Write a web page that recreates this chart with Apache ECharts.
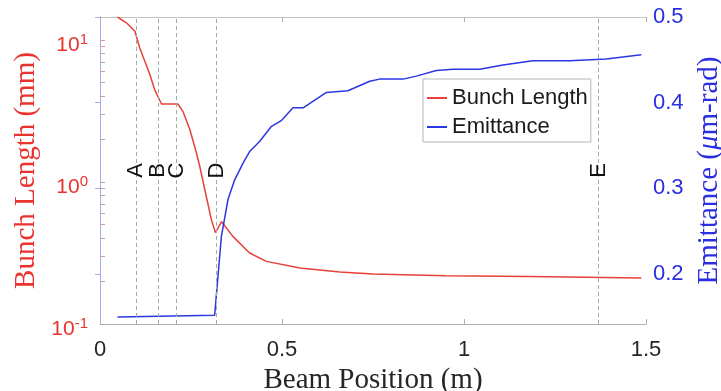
<!DOCTYPE html>
<html>
<head>
<meta charset="utf-8">
<script src="https://cdn.jsdelivr.net/npm/echarts@6/dist/echarts.min.js"></script>
<style>
html,body{margin:0;padding:0;background:#fff;}
#chart{width:721px;height:391px;}
</style>
</head>
<body>
<div id="chart"></div>
<script>
// ---- data ----
const bunchX = [0.048, 0.0725, 0.096, 0.109, 0.137, 0.150, 0.169, 0.214, 0.228, 0.247, 0.265, 0.274, 0.292, 0.306, 0.317, 0.334, 0.365, 0.411, 0.457, 0.549, 0.659, 0.75, 0.95, 1.18, 1.487];
const bunchY = [14.5, 13.2, 11.5, 8.8, 5.7, 4.47, 3.54, 3.54, 3.13, 2.33, 1.6, 1.29, 0.79, 0.543, 0.44, 0.525, 0.414, 0.316, 0.276, 0.248, 0.232, 0.225, 0.219, 0.216, 0.211];

const emitX = [0.048, 0.315, 0.3335, 0.3516, 0.370, 0.393, 0.411, 0.439, 0.47, 0.498, 0.530, 0.558, 0.622, 0.681, 0.741, 0.768, 0.833, 0.869, 0.924, 0.97, 1.043, 1.107, 1.189, 1.29, 1.391, 1.487];
const emitY = [0.150, 0.152, 0.244, 0.287, 0.310, 0.3295, 0.343, 0.355, 0.372, 0.379, 0.394, 0.394, 0.412, 0.414, 0.425, 0.4275, 0.4275, 0.431, 0.4376, 0.439, 0.439, 0.444, 0.449, 0.449, 0.451, 0.456];

const markerNames = ['A', 'B', 'C', 'D', 'E'];
const markerX = [0.1, 0.162, 0.214, 0.32, 1.368];

const xTicks = [0, 0.5, 1, 1.5];
const leftLabelTicks = [0.1, 1, 10];
const leftMinorTicks = [0.1,0.2,0.3,0.4,0.5,0.6,0.7,0.8,0.9,1,2,3,4,5,6,7,8,9,10];
const rightTicks = [0.2, 0.3, 0.4, 0.5];

const seriesNames = ['Bunch Length', 'Emittance'];

// ---- styling ----
const RED = '#e8403a';
const RED_TXT = '#e8332f';
const BLUE = '#2b36e3';
const BLUE_TXT = '#2a2ee0';
const SERIF = '"Liberation Serif", "Times New Roman", serif';
const SANS = '"Liberation Sans", Arial, Helvetica, sans-serif';

const zip = (xs, ys) => xs.map((x, i) => [x, ys[i]]);

const chart = echarts.init(document.getElementById('chart'), null, {renderer: 'canvas'});

const option = {
  animation: false,
  backgroundColor: '#fff',
  grid: {left: 100, right: 75, top: 17, bottom: 67, containLabel: false, outerBoundsMode: 'none'},
  legend: {
    orient: 'vertical',
    left: 423, top: 79,
    icon: 'rect', itemWidth: 20, itemHeight: 2, itemGap: 7,
    padding: [8, 3, 4, 4],
    borderColor: '#b5b5b5', borderWidth: 1, backgroundColor: '#fff',
    textStyle: {fontFamily: SANS, fontSize: 22, color: '#1a1a1a'},
    data: seriesNames
  },
  xAxis: [{
    type: 'value', min: 0, max: 1.5, interval: 0.5, position: 'bottom',
    name: 'Beam Position (m)', nameLocation: 'middle', nameGap: 40,
    nameTextStyle: {fontFamily: SERIF, fontSize: 29, color: '#262626'},
    axisLine: {show: true, lineStyle: {color: '#b0b0b0', width: 1}},
    axisTick: {show: true, inside: true, length: 5, lineStyle: {color: '#b0b0b0'}},
    axisLabel: {fontFamily: SANS, fontSize: 22, color: '#262626', margin: 15,
      customValues: xTicks},
    splitLine: {show: false}
  }, {
    type: 'value', min: 0, max: 1.5, interval: 0.5, position: 'top',
    axisLine: {show: true, lineStyle: {color: '#c4c4c4', width: 1}},
    axisTick: {show: true, inside: true, length: 5, lineStyle: {color: '#b0b0b0'}},
    axisLabel: {show: false},
    splitLine: {show: false}
  }],
  yAxis: [{
    type: 'log', logBase: 10, min: 0.1, max: 14.5, position: 'left',
    name: 'Bunch Length (mm)', nameLocation: 'middle', nameGap: 58, nameRotate: 90,
    nameTextStyle: {fontFamily: SERIF, fontSize: 29, color: RED_TXT},
    axisLine: {show: true, lineStyle: {color: '#ec9d9a', width: 1}},
    axisTick: {show: true, inside: true, length: 5, lineStyle: {color: '#c8a0a0'},
      customValues: leftMinorTicks},
    axisLabel: {
      margin: 12, customValues: leftLabelTicks,
      formatter: function (v) {
        const e = Math.round(Math.log10(v));
        return '{b|10}{s|' + e + '}';
      },
      rich: {
        b: {fontFamily: SANS, fontSize: 21, color: RED_TXT, lineHeight: 24, verticalAlign: 'bottom'},
        s: {fontFamily: SANS, fontSize: 15, color: RED_TXT, lineHeight: 12, verticalAlign: 'top'}
      },
      padding: [8, 0, 0, 0]
    },
    splitLine: {show: false}
  }, {
    type: 'value', min: 0.1417, max: 0.5, position: 'right',
    name: '{n|Emittance (}{i|μ}{n|m-rad)}', nameLocation: 'middle', nameGap: 47, nameRotate: 90,
    nameTextStyle: {
      rich: {
        n: {fontFamily: SERIF, fontSize: 29, color: BLUE_TXT},
        i: {fontFamily: SERIF, fontSize: 29, fontStyle: 'italic', color: BLUE_TXT}
      }
    },
    axisLine: {show: true, lineStyle: {color: '#a9a9f2', width: 1}},
    axisTick: {show: true, inside: true, length: 5, lineStyle: {color: '#a9a9f2'},
      customValues: rightTicks},
    axisLabel: {fontFamily: SANS, fontSize: 22, color: BLUE_TXT, margin: 7,
      customValues: rightTicks, padding: [4, 0, 0, 0],
      formatter: v => v.toFixed(1)},
    splitLine: {show: false}
  }],
  series: [{
    name: seriesNames[0], type: 'line', xAxisIndex: 0, yAxisIndex: 0,
    data: zip(bunchX, bunchY),
    showSymbol: false, symbol: 'none', smooth: false,
    lineStyle: {color: RED, width: 1.5}, itemStyle: {color: RED},
    markLine: {
      silent: true, symbol: 'none',
      lineStyle: {color: '#a8a8a8', type: [4, 3], width: 1},
      label: {show: true, position: 'middle', formatter: p => p.name,
        fontFamily: SANS, fontSize: 22, color: '#111', distance: -11},
      data: markerX.map((x, i) => ({xAxis: x, name: markerNames[i]}))
    }
  }, {
    name: seriesNames[1], type: 'line', xAxisIndex: 0, yAxisIndex: 1,
    data: zip(emitX, emitY),
    showSymbol: false, symbol: 'none', smooth: false,
    lineStyle: {color: BLUE, width: 1.5}, itemStyle: {color: BLUE}
  }]
};
chart.setOption(option);
</script>
</body>
</html>
